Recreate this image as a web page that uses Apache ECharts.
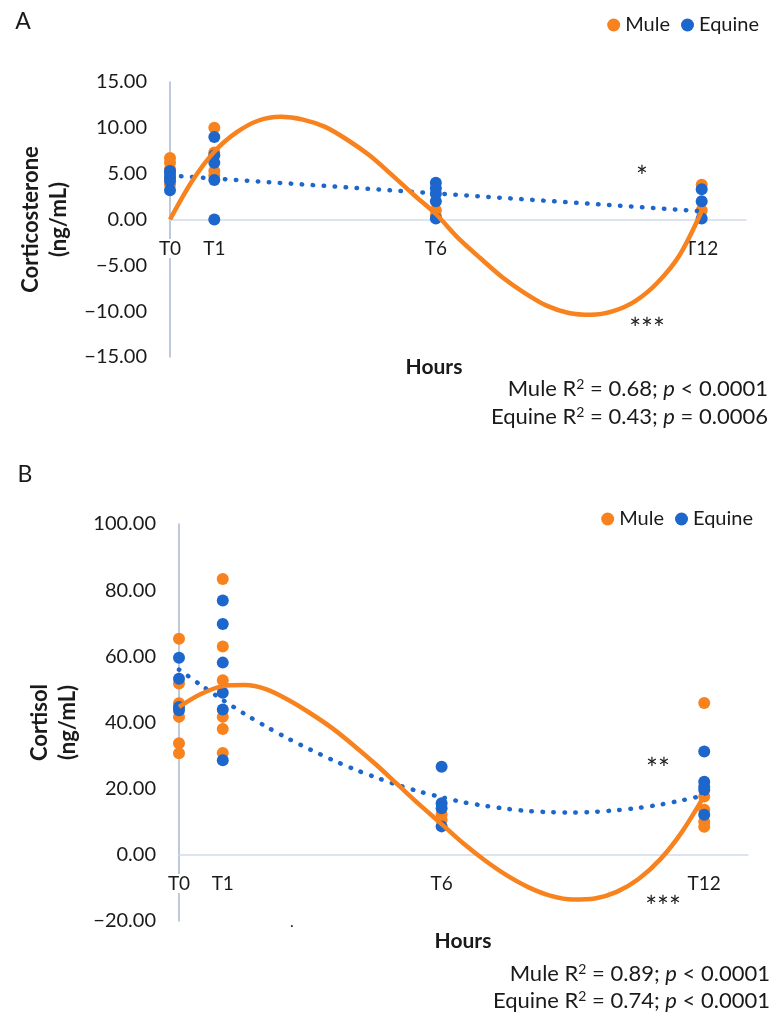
<!DOCTYPE html>
<html>
<head>
<meta charset="utf-8">
<script src="https://cdn.jsdelivr.net/npm/echarts@6/dist/echarts.min.js"></script>
<style>
html,body{margin:0;padding:0;background:#fff;}
#chart{width:780px;height:1017px;}
</style>
</head>
<body>
<div id="chart"></div>
<script>
// ---- data ----
const hours = [0, 1, 6, 12];
const tickLabels = ['T0', 'T1', 'T6', 'T12'];

// Panel A: corticosterone (ng/mL), one list per time point
const muleCortico = [[6.7, 6.2, 5.5, 4.5, 3.8], [10.0, 7.3, 5.3, 4.8], [1.0, 0.4], [3.8, 1.0]];
const equineCortico = [[5.3, 5.0, 4.6, 4.2, 3.2], [9.0, 7.0, 6.2, 4.3, 0.0], [4.0, 3.4, 2.8, 2.0, 0.1], [3.3, 2.0, 0.1]];

// Panel B: cortisol (ng/mL)
const muleCortisol = [[65.3, 51.8, 45.8, 41.7, 33.7, 30.7], [83.4, 63.0, 52.8, 41.7, 38.0, 30.8], [12.1, 10.6], [45.9, 17.6, 13.6, 10.0, 8.5]];
const equineCortisol = [[59.6, 53.2, 44.7, 43.7], [76.9, 69.8, 58.1, 49.0, 43.9, 28.6], [26.6, 15.6, 14.1, 8.6], [31.2, 22.1, 20.6, 19.6, 12.1]];

// Trend lines (every half hour)
const trendHours = [0, 0.5, 1, 1.5, 2, 2.5, 3, 3.5, 4, 4.5, 5, 5.5, 6, 6.5, 7, 7.5, 8, 8.5, 9, 9.5, 10, 10.5, 11, 11.5, 12];
const muleCorticoTrend = [0, 4.2, 7.4, 9.5, 10.8, 11.2, 10.9, 10.1, 8.7, 7.0, 4.9, 2.7, 0.6, -2.0, -4.2, -6.3, -8.0, -9.4, -10.2, -10.4, -10.0, -8.9, -6.9, -3.9, 0.9];
const equineCorticoTrendHours = [0, 12];
const equineCorticoTrend = [4.8, 0.9];
const muleCortisolTrend = [44.7, 48.6, 51.0, 51.3, 50.0, 46.8, 42.8, 38.3, 33.0, 27.3, 21.2, 15.1, 9.3, 3.4, -1.8, -6.3, -9.9, -12.4, -13.5, -13.2, -11.2, -7.3, -1.3, 7.1, 17.8];
const equineCortisolTrend = [56.0, 51.3, 46.8, 42.6, 38.7, 35.1, 31.8, 28.7, 25.9, 23.4, 21.1, 19.1, 17.4, 15.9, 14.8, 13.9, 13.2, 12.9, 12.8, 13.0, 13.5, 14.2, 15.2, 16.5, 18.0];

const ORANGE = '#F7821E';
const BLUE = '#1C66CC';
const F = 'Lato, "Open Sans", sans-serif';
const TXT = '#1a1a1a';

function pairs(groups) {
  const out = [];
  groups.forEach((g, i) => g.forEach(v => out.push([hours[i], v])));
  return out;
}
function zipXY(xs, ys) { return xs.map((x, i) => [x, ys[i]]); }
function fmtY(v) { return (v < 0 ? '\u2212' : '') + Math.abs(v).toFixed(2); }
function fmtX(v) { const i = hours.indexOf(v); return i >= 0 ? tickLabels[i] : ''; }

const xAxisBase = {
  type: 'value', min: 0, max: 13, interval: 1, position: 'bottom',
  axisLine: { onZero: false, lineStyle: { color: '#D3DCE8', width: 1.5 } },
  axisTick: { show: false },
  splitLine: { show: false },
  axisLabel: { formatter: fmtX, fontSize: 19, fontFamily: F, color: TXT, margin: 19,
               backgroundColor: '#fff', padding: [0, 1] }
};
const yAxisBase = {
  type: 'value',
  axisLine: { show: true, onZero: false, lineStyle: { color: '#A9B9D1', width: 1.5 } },
  axisTick: { show: false },
  splitLine: { show: false },
  axisLabel: { formatter: fmtY, fontSize: 20, fontFamily: F, color: TXT, margin: 23 },
  nameLocation: 'middle', nameRotate: 90,
  nameTextStyle: { fontSize: 22, fontWeight: 'bold', fontFamily: F, color: TXT, lineHeight: 28, align: 'center' }
};

function richText(label, r2, pSign, pVal) {
  return '{n|' + label + ' R}{s|2}{n| = ' + r2 + '; }{i|p}{n| ' + pSign + ' ' + pVal + '}';
}
const richStyle = {
  n: { fontSize: 22, fontFamily: F, fill: TXT },
  i: { fontSize: 22, fontFamily: F, fill: TXT, fontStyle: 'italic' },
  s: { fontSize: 14, fontFamily: F, fill: TXT, verticalAlign: 'top', padding: [0, 0, 9, 0] }
};
function annot(x, y, text) {
  return { type: 'text', x: x, y: y, style: { text: text, rich: richStyle, align: 'right', verticalAlign: 'middle' } };
}
function plain(x, y, text, size, weight, align) {
  return { type: 'text', x: x, y: y, style: { text: text, fontSize: size, fontWeight: weight || 'normal',
           fontFamily: F, fill: TXT, align: align || 'center', verticalAlign: 'middle' } };
}

const legendBase = { data: ['Mule', 'Equine'], orient: 'horizontal', icon: 'circle', itemWidth: 13, itemHeight: 13,
  itemGap: 11, width: 300, textStyle: { fontSize: 20, fontFamily: F, color: TXT } };

const chart = echarts.init(document.getElementById('chart'), null, { renderer: 'canvas' });
chart.setOption({
  animation: false,
  backgroundColor: '#fff',
  grid: [
    { left: 170, right: 34, top: 82, bottom: 660 },
    { left: 179, right: 32, top: 524, bottom: 96 }
  ],
  legend: [
    Object.assign({}, legendBase, { right: 16, top: 10 }),
    Object.assign({}, legendBase, { right: 22, top: 504 })
  ],
  xAxis: [
    Object.assign({}, xAxisBase, { gridIndex: 0, offset: -137 }),
    Object.assign({}, xAxisBase, { gridIndex: 1, offset: -66 })
  ],
  yAxis: [
    Object.assign({}, yAxisBase, { gridIndex: 0, min: -15, max: 15, interval: 5, name: 'Corticosterone\n(ng/mL)', nameGap: 94 }),
    Object.assign({}, yAxisBase, { gridIndex: 1, min: -20, max: 100, interval: 20, name: 'Cortisol\n(ng/mL)', nameGap: 96 })
  ],
  series: [
    { name: 'Mule', type: 'scatter', xAxisIndex: 0, yAxisIndex: 0, symbolSize: 12, itemStyle: { color: ORANGE, opacity: 1 }, data: pairs(muleCortico) },
    { name: 'Equine', type: 'scatter', xAxisIndex: 0, yAxisIndex: 0, symbolSize: 12, itemStyle: { color: BLUE, opacity: 1 }, data: pairs(equineCortico) },
    { name: 'Equine trend A', type: 'line', xAxisIndex: 0, yAxisIndex: 0, symbol: 'none',
      lineStyle: { color: BLUE, width: 4.5, type: [0.5, 10.5], cap: 'round' }, data: zipXY(equineCorticoTrendHours, equineCorticoTrend) },
    { name: 'Mule trend A', type: 'line', xAxisIndex: 0, yAxisIndex: 0, symbol: 'none', smooth: 0.3,
      lineStyle: { color: ORANGE, width: 4.5 }, data: zipXY(trendHours, muleCorticoTrend) },

    { name: 'Mule', type: 'scatter', xAxisIndex: 1, yAxisIndex: 1, symbolSize: 12, itemStyle: { color: ORANGE, opacity: 1 }, data: pairs(muleCortisol) },
    { name: 'Equine', type: 'scatter', xAxisIndex: 1, yAxisIndex: 1, symbolSize: 12, itemStyle: { color: BLUE, opacity: 1 }, data: pairs(equineCortisol) },
    { name: 'Equine trend B', type: 'line', xAxisIndex: 1, yAxisIndex: 1, symbol: 'none', smooth: 0.3,
      lineStyle: { color: BLUE, width: 4.5, type: [0.5, 10.5], cap: 'round' }, data: zipXY(trendHours, equineCortisolTrend) },
    { name: 'Mule trend B', type: 'line', xAxisIndex: 1, yAxisIndex: 1, symbol: 'none', smooth: 0.3,
      lineStyle: { color: ORANGE, width: 4.5 }, data: zipXY(trendHours, muleCortisolTrend) }
  ],
  graphic: [
    plain(23, 22, 'A', 23, 'normal'),
    plain(25, 475, 'B', 23, 'normal'),
    plain(434, 367, 'Hours', 21, 'bold'),
    plain(463, 941, 'Hours', 21, 'bold'),
    plain(642, 178, '*', 28, 'normal'),
    plain(647, 330, '***', 28, 'normal'),
    plain(658, 770, '**', 28, 'normal'),
    plain(663, 908, '***', 28, 'normal'),
    plain(292, 922, '.', 16, 'normal'),
    annot(768, 389, richText('Mule', '0.68', '<', '0.0001')),
    annot(768, 417, richText('Equine', '0.43', '=', '0.0006')),
    annot(770, 974, richText('Mule', '0.89', '<', '0.0001')),
    annot(770, 1001, richText('Equine', '0.74', '<', '0.0001'))
  ]
});
</script>
</body>
</html>
